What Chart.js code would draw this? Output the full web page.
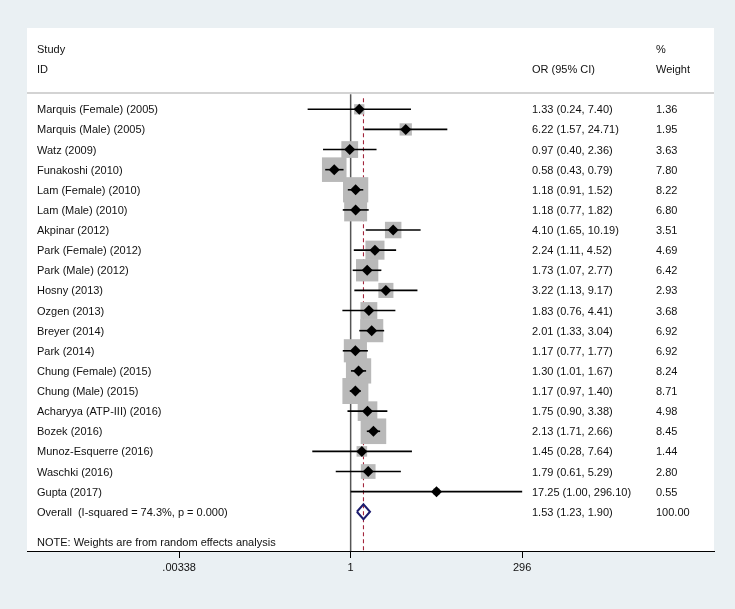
<!DOCTYPE html>
<html>
<head>
<meta charset="utf-8">
<script src="https://cdn.jsdelivr.net/npm/chart.js@4/dist/chart.umd.min.js"></script>
<style>
  html, body { margin: 0; padding: 0; background: #eaf0f3; }
  #wrap { width: 735px; height: 609px; }
</style>
</head>
<body>
<div id="wrap"><canvas id="c" width="735" height="609"></canvas></div>
<script>
// ---------------- data ----------------
const studies = [
  'Marquis (Female) (2005)', 'Marquis (Male) (2005)', 'Watz (2009)', 'Funakoshi (2010)',
  'Lam (Female) (2010)', 'Lam (Male) (2010)', 'Akpinar (2012)', 'Park (Female) (2012)',
  'Park (Male) (2012)', 'Hosny (2013)', 'Ozgen (2013)', 'Breyer (2014)', 'Park (2014)',
  'Chung (Female) (2015)', 'Chung (Male) (2015)', 'Acharyya (ATP-III) (2016)', 'Bozek (2016)',
  'Munoz-Esquerre (2016)', 'Waschki (2016)', 'Gupta (2017)'
];
const orValues = [1.33, 6.22, 0.97, 0.58, 1.18, 1.18, 4.10, 2.24, 1.73, 3.22, 1.83, 2.01, 1.17, 1.30, 1.17, 1.75, 2.13, 1.45, 1.79, 17.25];
const ciLower  = [0.24, 1.57, 0.40, 0.43, 0.91, 0.77, 1.65, 1.11, 1.07, 1.13, 0.76, 1.33, 0.77, 1.01, 0.97, 0.90, 1.71, 0.28, 0.61, 1.00];
const ciUpper  = [7.40, 24.71, 2.36, 0.79, 1.52, 1.82, 10.19, 4.52, 2.77, 9.17, 4.41, 3.04, 1.77, 1.67, 1.40, 3.38, 2.66, 7.64, 5.29, 296.10];
const weights  = [1.36, 1.95, 3.63, 7.80, 8.22, 6.80, 3.51, 4.69, 6.42, 2.93, 3.68, 6.92, 6.92, 8.24, 8.71, 4.98, 8.45, 1.44, 2.80, 0.55];

const overallLabel = 'Overall  (I-squared = 74.3%, p = 0.000)';
const overallEst = 1.53;
const overallLower = 1.23;
const overallUpper = 1.90;
const overallWeight = 100.00;

const headerLeft = ['Study', 'ID'];
const headerMid = 'OR (95% CI)';
const headerRight = ['%', 'Weight'];
const noteText = 'NOTE: Weights are from random effects analysis';

const tickValues = [0.00338, 1, 296];
const tickLabels = ['.00338', '1', '296'];

// ---------------- layout constants ----------------
const FONT = '"Liberation Sans", Arial, Helvetica, sans-serif';
const Y_MIN = -3.04, Y_MAX = 22.95;
const X_MIN = 2.17e-5, X_MAX = 1.72e5;
const ROW_STUDY_HDR = -2, ROW_ID_HDR = -1, ROW_SEP = 0.19, ROW_OVERALL = studies.length + 1, ROW_NOTE = 22.49;
const COL_LABEL = 37, COL_OR = 532, COL_W = 656;
const BOX_K = 8.8; // box side per sqrt(weight)

const rows = studies.map((s, i) => i + 1);
const fmt = v => v.toFixed(2);

// ---------------- datasets ----------------
const datasets = [];

datasets.push({
  label: 'estimates',
  order: 0,
  data: orValues.map((v, i) => ({ x: v, y: rows[i] })),
  pointStyle: 'rectRot',
  pointRadius: 5.5,
  pointHoverRadius: 5.5,
  backgroundColor: '#000',
  borderWidth: 0,
  showLine: false
});

datasets.push({
  label: 'overall',
  order: 1,
  data: [
    { x: overallLower, y: ROW_OVERALL },
    { x: overallEst, y: ROW_OVERALL - 0.37 },
    { x: overallUpper, y: ROW_OVERALL },
    { x: overallEst, y: ROW_OVERALL + 0.37 },
    { x: overallLower, y: ROW_OVERALL }
  ],
  showLine: true,
  borderColor: '#1c1c6e',
  borderWidth: 2,
  borderJoinStyle: 'miter',
  pointRadius: 0,
  fill: false,
  tension: 0
});

studies.forEach((s, i) => {
  datasets.push({
    label: 'ci' + i,
    order: 2,
    data: [{ x: ciLower[i], y: rows[i] }, { x: ciUpper[i], y: rows[i] }],
    showLine: true,
    borderColor: '#000',
    borderWidth: 1.6,
    pointRadius: 0,
    fill: false
  });
});

datasets.push({
  label: 'boxes',
  order: 3,
  data: orValues.map((v, i) => ({ x: v, y: rows[i] })),
  pointStyle: 'rect',
  pointRadius: ctx => BOX_K * Math.sqrt(weights[ctx.dataIndex]) / Math.SQRT2,
  pointHoverRadius: ctx => BOX_K * Math.sqrt(weights[ctx.dataIndex]) / Math.SQRT2,
  backgroundColor: '#b9b9b9',
  borderWidth: 0,
  showLine: false
});

datasets.push({
  label: 'null line',
  order: 4,
  data: [{ x: 1, y: 0.25 }, { x: 1, y: Y_MAX }],
  showLine: true,
  borderColor: '#555555',
  borderWidth: 1.5,
  pointRadius: 0
});

datasets.push({
  label: 'overall line',
  order: 4,
  data: [{ x: overallEst, y: 0.45 }, { x: overallEst, y: Y_MAX }],
  showLine: true,
  borderColor: '#a3263c',
  borderWidth: 1.1,
  borderDash: [4, 3],
  pointRadius: 0
});

// ---------------- plugin: panel + text ----------------
const forestPlugin = {
  id: 'forest',
  beforeDraw(chart) {
    const { ctx, chartArea: a, width, height } = chart;
    ctx.save();
    ctx.fillStyle = '#eaf0f3';
    ctx.fillRect(0, 0, width, height);
    ctx.fillStyle = '#ffffff';
    ctx.fillRect(a.left, a.top, a.right - a.left, a.bottom - a.top);
    const ys = chart.scales.y.getPixelForValue(ROW_SEP);
    ctx.strokeStyle = '#c4c4c4';
    ctx.lineWidth = 1.5;
    ctx.beginPath();
    ctx.moveTo(a.left, ys);
    ctx.lineTo(a.right, ys);
    ctx.stroke();
    ctx.restore();
  },
  afterDatasetsDraw(chart) {
    const { ctx } = chart;
    const y = chart.scales.y;
    ctx.save();
    ctx.font = '11px ' + FONT;
    ctx.fillStyle = '#111';
    ctx.textAlign = 'left';
    ctx.textBaseline = 'middle';
    const put = (t, x, row) => ctx.fillText(t, x, Math.round(y.getPixelForValue(row)) + 0.5);
    put(headerLeft[0], COL_LABEL, ROW_STUDY_HDR);
    put(headerLeft[1], COL_LABEL, ROW_ID_HDR);
    put(headerMid, COL_OR, ROW_ID_HDR);
    put(headerRight[0], COL_W, ROW_STUDY_HDR);
    put(headerRight[1], COL_W, ROW_ID_HDR);
    studies.forEach((s, i) => {
      put(s, COL_LABEL, rows[i]);
      put(`${fmt(orValues[i])} (${fmt(ciLower[i])}, ${fmt(ciUpper[i])})`, COL_OR, rows[i]);
      put(fmt(weights[i]), COL_W, rows[i]);
    });
    put(overallLabel, COL_LABEL, ROW_OVERALL);
    put(`${fmt(overallEst)} (${fmt(overallLower)}, ${fmt(overallUpper)})`, COL_OR, ROW_OVERALL);
    put(fmt(overallWeight), COL_W, ROW_OVERALL);
    put(noteText, COL_LABEL, ROW_NOTE);
    ctx.restore();
  }
};

new Chart(document.getElementById('c'), {
  type: 'scatter',
  data: { datasets },
  options: {
    responsive: false,
    animation: false,
    events: [],
    layout: { padding: { left: 27, right: 21, top: 28, bottom: 0 } },
    plugins: { legend: { display: false }, tooltip: { enabled: false } },
    scales: {
      x: {
        type: 'logarithmic',
        position: 'bottom',
        min: X_MIN,
        max: X_MAX,
        bounds: 'data',
        afterBuildTicks: scale => { scale.ticks = tickValues.map(v => ({ value: v })); },
        afterFit: scale => { scale.height = 58; },
        ticks: {
          autoSkip: false,
          maxRotation: 0,
          padding: 3,
          color: '#111',
          font: { family: FONT, size: 11 },
          callback: (val, idx) => tickLabels[idx]
        },
        grid: { display: true, drawOnChartArea: false, drawTicks: true, tickLength: 7, color: '#000', lineWidth: 1 },
        border: { display: true, color: '#000', width: 1 }
      },
      y: {
        type: 'linear',
        display: false,
        reverse: true,
        min: Y_MIN,
        max: Y_MAX,
        bounds: 'data'
      }
    }
  },
  plugins: [forestPlugin]
});
</script>
</body>
</html>
